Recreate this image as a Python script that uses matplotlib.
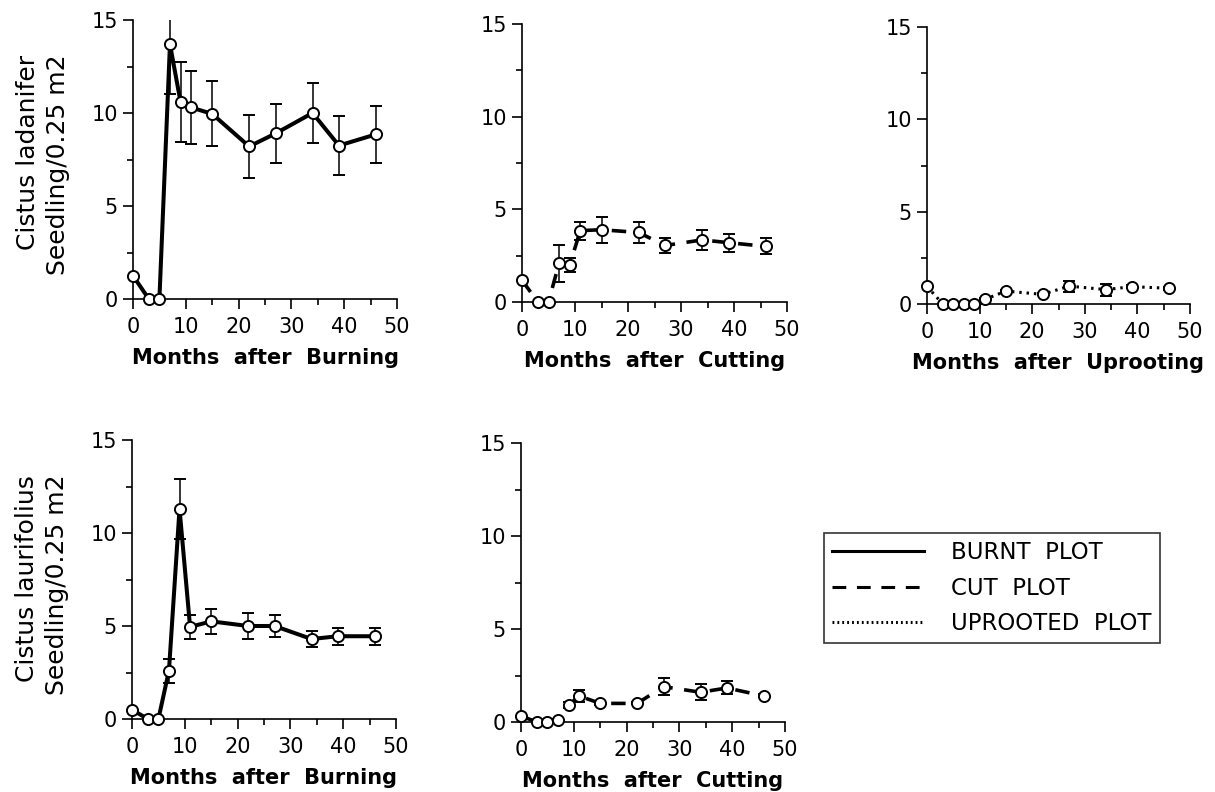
import matplotlib
matplotlib.use("Agg")
import matplotlib.pyplot as plt
from matplotlib.ticker import MultipleLocator
from matplotlib.lines import Line2D

months = [0, 3, 5, 7, 9, 11, 15, 22, 27, 34, 39, 46]

# Cistus ladanifer
lad_burnt = [1.25, 0, 0, 13.7, 10.6, 10.3, 9.95, 8.2, 8.9, 10.0, 8.25, 8.85]
lad_burnt_err = [0.1, 0, 0, 2.7, 2.15, 1.95, 1.75, 1.7, 1.6, 1.6, 1.6, 1.55]
lad_cut = [1.17, 0, 0, 2.1, 2.0, 3.85, 3.9, 3.75, 3.05, 3.35, 3.2, 3.0]
lad_cut_err = [0.1, 0, 0, 1.0, 0.4, 0.48, 0.7, 0.55, 0.38, 0.52, 0.48, 0.43]
lad_uproot = [0.95, 0, 0, 0, 0, 0.25, 0.7, 0.52, 0.97, 0.78, 0.94, 0.85]
lad_uproot_err = [0.05, 0, 0, 0, 0, 0.05, 0.08, 0.05, 0.3, 0.33, 0.08, 0.08]

# Cistus laurifolius
lau_burnt = [0.5, 0, 0, 2.6, 11.3, 4.95, 5.25, 5.0, 5.0, 4.3, 4.45, 4.45]
lau_burnt_err = [0.05, 0, 0, 0.65, 1.6, 0.63, 0.67, 0.72, 0.57, 0.45, 0.45, 0.45]
lau_cut = [0.32, 0, 0, 0.09, 0.9, 1.4, 1.0, 1.0, 1.9, 1.6, 1.83, 1.4]
lau_cut_err = [0.05, 0, 0, 0.05, 0.15, 0.3, 0.08, 0.05, 0.45, 0.42, 0.35, 0.08]

xticks = [0, 10, 20, 30, 40, 50]
yticks = [0, 5, 10, 15]
xlabels = ["Months  after  Burning", "Months  after  Cutting", "Months  after  Uprooting"]
ylabels = ["Cistus ladanifer\nSeedling/0.25 m2", "Cistus laurifolius\nSeedling/0.25 m2"]
legend_labels = ["BURNT  PLOT", "CUT  PLOT", "UPROOTED  PLOT"]

W, H = 1215, 792
fig = plt.figure(figsize=(W / 100, H / 100), dpi=100)

def px_axes(l, t, r, b):
    return fig.add_axes([l / W, 1 - b / H, (r - l) / W, (b - t) / H])

TICKFONT = dict(family="DejaVu Sans", size=15, color="black")
LABFONT = dict(family="DejaVu Sans", weight="bold", size=15)

styles = {
    "burnt": dict(ls="-", lw=2.9),
    "cut": dict(ls=(0, (4.0, 3.2)), lw=2.6),
    "uproot": dict(ls=(0, (0.8, 1.6)), lw=2.2),
}

def panel(ax, y, err, style, xlabel, ylabel=None):
    st = styles[style]
    eb = ax.errorbar(months, y, yerr=err, color="black", lw=st["lw"], ls=st["ls"],
                     marker="o", ms=8, mfc="white", mec="black", mew=1.4,
                     ecolor="black", elinewidth=1.1, capsize=4, capthick=1.1,
                     zorder=3)
    eb[0].set_clip_on(False)
    ax.set_xlim(0, 50)
    ax.set_ylim(0, 15)
    for s in ["top", "right"]:
        ax.spines[s].set_visible(False)
    for s in ["left", "bottom"]:
        ax.spines[s].set_linewidth(1.2)
    ax.xaxis.set_minor_locator(MultipleLocator(5))
    ax.yaxis.set_minor_locator(MultipleLocator(2.5))
    ax.tick_params(axis="both", which="major", direction="out", length=7, width=1.2)
    ax.tick_params(axis="x", which="major", pad=6)
    ax.tick_params(axis="y", which="major", pad=4)
    ax.tick_params(axis="both", which="minor", direction="out", length=4, width=1.2)
    ax.set_xticks(xticks)
    ax.set_xticklabels([str(v) for v in xticks], fontdict=TICKFONT)
    ax.set_yticks(yticks)
    ax.set_yticklabels([str(v) for v in yticks], fontdict=TICKFONT)
    ax.set_xlabel(xlabel, fontdict=LABFONT, labelpad=8)
    if ylabel:
        ax.set_ylabel(ylabel, family="DejaVu Sans", size=18, va="center",
                      linespacing=1.3, multialignment="right")
        ax.yaxis.set_label_coords(-0.34, 0.48)

ax1 = px_axes(133, 20, 397, 299)
panel(ax1, lad_burnt, lad_burnt_err, "burnt", xlabels[0], ylabels[0])
ax2 = px_axes(522, 24, 787, 302)
panel(ax2, lad_cut, lad_cut_err, "cut", xlabels[1])
ax3 = px_axes(927, 27, 1190, 304)
panel(ax3, lad_uproot, lad_uproot_err, "uproot", xlabels[2])
ax4 = px_axes(132, 440, 396, 719)
panel(ax4, lau_burnt, lau_burnt_err, "burnt", xlabels[0], ylabels[1])
ax5 = px_axes(521, 443, 785, 722)
panel(ax5, lau_cut, lau_cut_err, "cut", xlabels[1])

handles = [
    Line2D([], [], color="black", lw=2.2, ls="-"),
    Line2D([], [], color="black", lw=2.2, ls=(0, (4.5, 3.5))),
    Line2D([], [], color="black", lw=2.2, ls=(0, (0.6, 1.0))),
]
leg = fig.legend(handles, legend_labels, loc="upper left",
                 bbox_to_anchor=(824 / W, 1 - 533 / H),
                 prop=dict(family="DejaVu Sans", size=16.5), frameon=True, fancybox=False,
                 edgecolor="black", handlelength=4.0, handletextpad=1.2,
                 labelspacing=0.55, borderpad=0.35, borderaxespad=0)
leg.get_frame().set_linewidth(1.2)

fig.savefig("out.png", dpi=100)
